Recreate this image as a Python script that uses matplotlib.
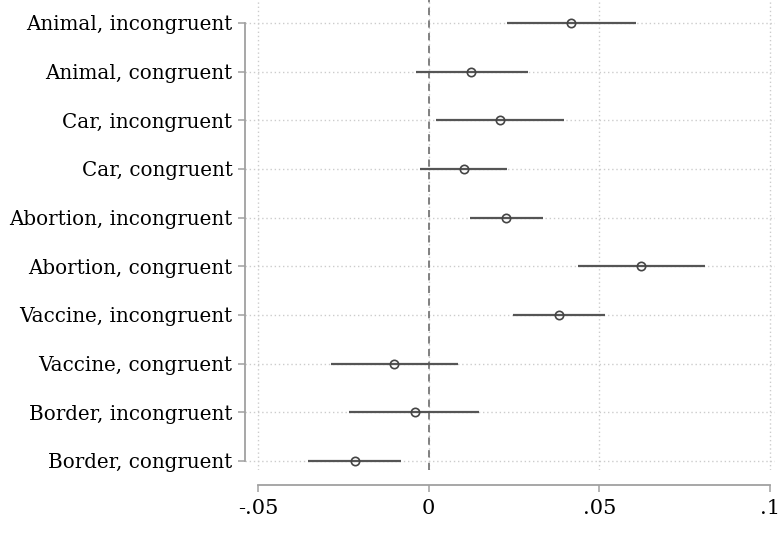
import numpy as np
import matplotlib
matplotlib.use('Agg')
import matplotlib.pyplot as plt

# coefficient estimates with 95% CIs, top to bottom as in the figure
labels = ['Animal, incongruent', 'Animal, congruent', 'Car, incongruent', 'Car, congruent',
          'Abortion, incongruent', 'Abortion, congruent', 'Vaccine, incongruent',
          'Vaccine, congruent', 'Border, incongruent', 'Border, congruent']
coef = [0.0416, 0.0123, 0.0208, 0.0103, 0.0226, 0.0621, 0.0381, -0.0100, -0.0041, -0.0217]
ci_low = [0.0229, -0.0038, 0.0021, -0.0026, 0.0120, 0.0437, 0.0246, -0.0287, -0.0234, -0.0352]
ci_high = [0.0609, 0.0290, 0.0398, 0.0231, 0.0334, 0.0809, 0.0516, 0.0085, 0.0149, -0.0082]
xticks = [-0.05, 0, 0.05, 0.1]
xticklabels = ['-.05', '0', '.05', '.1']

plt.rcParams['font.family'] = ['DejaVu Serif']

fig = plt.figure(figsize=(7.8, 5.47), dpi=100)
W, H = 780, 547
# axes in pixel terms: left 245, right 775, top 0, bottom 470
ax = fig.add_axes([245 / W, 1 - 470 / H, (775 - 245) / W, 470 / H])

n = len(labels)
ypos = np.arange(n)[::-1]

ax.set_xlim(-0.0538, 0.1015)
ax.set_ylim(-0.185, 9.47)

# grid
for x in xticks:
    ax.axvline(x, color='#cccccc', lw=1, ls=(0, (1, 2)), zorder=0)
for y in ypos:
    ax.axhline(y, color='#cccccc', lw=1, ls=(0, (1, 2)), zorder=0)
ax.axvline(0, color='#777777', lw=1.3, ls=(0, (4, 3)), zorder=1)

ax.hlines(ypos, ci_low, ci_high, color='#555555', lw=1.6, zorder=2)
ax.plot(coef, ypos, 'o', ms=6, mfc='none', mec='#444444', mew=1.2, zorder=3)

ax.set_yticks(ypos)
ax.set_yticklabels(labels)
ax.set_xticks(xticks)
ax.set_xticklabels(xticklabels)

for s in ['top', 'right']:
    ax.spines[s].set_visible(False)
ax.spines['left'].set_bounds(0, n - 1)
ax.spines['bottom'].set_bounds(-0.05, 0.1)
ax.spines['bottom'].set_position(('outward', 11))
for s in ['left', 'bottom']:
    ax.spines[s].set_color('#a0a0a0')
    ax.spines[s].set_linewidth(1.3)
ax.tick_params(axis='both', length=5, width=1.1, color='#a0a0a0', labelcolor='black')
ax.tick_params(axis='y', pad=4, labelsize=14.3)
ax.tick_params(axis='x', pad=5, labelsize=15)

fig.savefig('out.png', dpi=100)
